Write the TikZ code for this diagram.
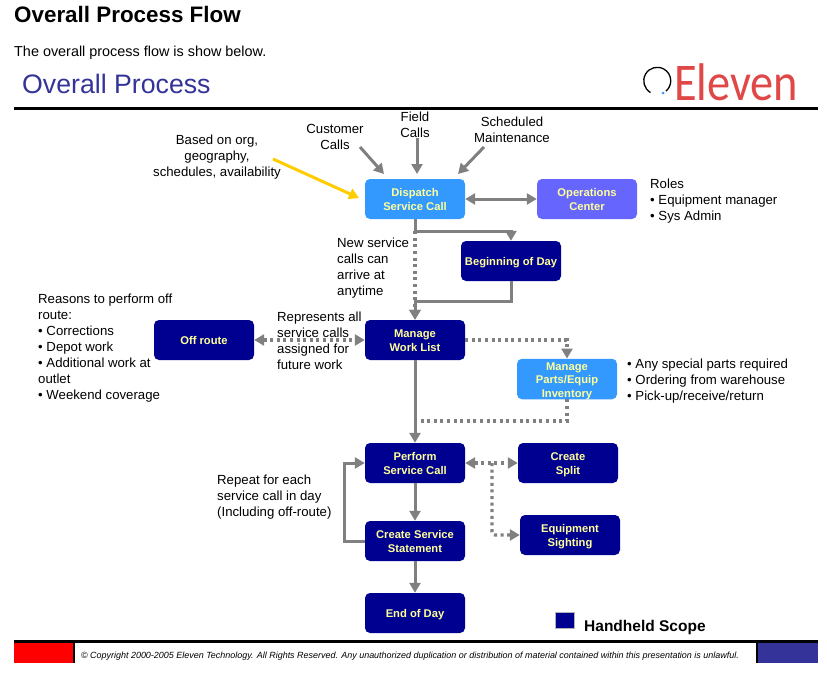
\documentclass[tikz,border=0pt]{standalone}
\usepackage{fontspec}
\setmainfont{Liberation Sans}
\newfontfamily\logofont{Carlito}
\usetikzlibrary{arrows.meta}
\definecolor{navybox}{HTML}{000090}
\definecolor{skybox}{HTML}{3399FF}
\definecolor{violetbox}{HTML}{6666FF}
\definecolor{boxtext}{HTML}{FFFF99}
\definecolor{flowgray}{HTML}{808080}
\definecolor{titleblue}{HTML}{333399}
\definecolor{logored}{HTML}{E04848}
\definecolor{basedyellow}{HTML}{FFCC00}
\newcommand{\boxlines}[1]{\raisebox{-2pt}[\height][\depth]{\begin{tabular}{@{}c@{}}#1\end{tabular}}}
\begin{document}
\begin{tikzpicture}[x=1pt,y=-1pt]
	\tikzset{procbox/.style={rounded corners=5pt,minimum width=100pt,minimum height=40pt,inner sep=0pt,text=boxtext,font=\fontsize{11.2}{14}\selectfont\bfseries}}
	\tikzset{handheld/.style={procbox,fill=navybox}}
	\tikzset{flow/.style={draw=flowgray,line width=3pt,-{Triangle[length=10pt,width=11pt]}}}
	\tikzset{twoway/.style={{Triangle[length=10pt,width=11pt]}-{Triangle[length=10pt,width=11pt]}}}
	\tikzset{flowdot/.style={flow,line width=3.2pt,dash pattern=on 3pt off 3.6pt}}
	\tikzset{note/.style={inner sep=0pt,align=left,font=\fontsize{13.2}{16}\selectfont}}
	\tikzset{notemid/.style={note,align=center}}

	\useasboundingbox (0,0) rectangle (827,672);

	\node[inner sep=0pt,anchor=west,font=\fontsize{22.4}{26}\selectfont\bfseries] (pagetitle) at (14,14) {Overall Process Flow};
	\node[note,anchor=west,font=\fontsize{14.4}{17}\selectfont] (intro) at (14,53) {The overall process flow is show below.};
	\node[inner sep=0pt,anchor=west,text=titleblue,font=\fontsize{26.7}{30}\selectfont] (slidetitle) at (22,84) {Overall Process};
	\node[inner sep=0pt,anchor=base west,text=logored,xscale=.875,font=\fontsize{53}{53}\logofont] (logo) at (674,100) {Eleven};
	\draw[line width=1.3pt] (650.5,92.5) arc[start angle=120,end angle=410,radius=13.5];
	\fill[skybox] (663,93) circle (1.5pt);
	\fill (14,106.5) rectangle (818,109.5);

	% boxes
	\node[procbox,fill=skybox] (dispatch) at (415,199) {\boxlines{Dispatch\\Service Call}};
	\node[procbox,fill=violetbox] (operations) at (587,199) {\boxlines{Operations\\Center}};
	\node[handheld] (beginday) at (511,261) {\boxlines{Beginning of Day}};
	\node[handheld] (offroute) at (204,340) {\boxlines{Off route}};
	\node[handheld] (worklist) at (415,340) {\boxlines{Manage\\Work List}};
	\node[procbox,fill=skybox,font=\fontsize{11.2}{13.5}\selectfont\bfseries] (inventory) at (567,379) {\boxlines{Manage\\Parts/Equip\\Inventory}};
	\node[handheld] (perform) at (415,463) {\boxlines{Perform\\Service Call}};
	\node[handheld] (split) at (568,463) {\boxlines{Create\\Split}};
	\node[handheld] (sighting) at (570,535) {\boxlines{Equipment\\Sighting}};
	\node[handheld] (statement) at (415,541) {\boxlines{Create Service\\Statement}};
	\node[handheld] (endday) at (415,613) {\boxlines{End of Day}};

	% notes
	\node[notemid] (customer) at (335,137) {Customer\\Calls};
	\node[notemid] (field) at (415,124.5) {Field\\Calls};
	\node[notemid] (scheduled) at (512,130) {Scheduled\\Maintenance};
	\node[notemid] (basedon) at (217,157) {Based on org,\\geography,\\schedules, availability};
	\node[note,anchor=north west] (roles) at (650,179) {Roles\\{\textbullet} Equipment manager\\{\textbullet} Sys Admin};
	\node[note,anchor=north west] (newcalls) at (337,237.5) {New service\\calls can\\arrive at\\anytime};
	\node[note,anchor=north west] (reasons) at (38,294) {Reasons to perform off\\route:\\{\textbullet} Corrections\\{\textbullet} Depot work\\{\textbullet} Additional work at\\outlet\\{\textbullet} Weekend coverage};
	\node[note,anchor=north west] (represents) at (277,312) {Represents all\\service calls\\assigned for\\future work};
	\node[note,anchor=north west] (parts) at (627,359) {{\textbullet} Any special parts required\\{\textbullet} Ordering from warehouse\\{\textbullet} Pick-up/receive/return};
	\node[note,anchor=north west] (repeat) at (217,475) {Repeat for each\\service call in day\\(Including off-route)};
	\node[inner sep=0pt,anchor=west,font=\fontsize{15.5}{18}\selectfont\bfseries] (scope) at (584,627.5) {Handheld Scope};
	\node[draw=flowgray!60,fill=navybox,minimum width=19pt,minimum height=16pt,inner sep=0pt] (scopekey) at (564.5,620) {};

	% free ends
	\coordinate (customerstart) at (360,147);
	\coordinate (customerend) at (384,174);
	\coordinate (fieldstart) at (417,138);
	\coordinate (fieldend) at (417,174);
	\coordinate (schedstart) at (484,147);
	\coordinate (schedend) at (458,174);
	\coordinate (yellowstart) at (273,159);
	\coordinate (yellowend) at (359,198);
	\coordinate (splitfork) at (492,463);
	\coordinate (partsjoin) at (418,421);

	\draw[flow] (customerstart) -- (customerend);
	\draw[flow] (fieldstart) -- (fieldend);
	\draw[flow] (schedstart) -- (schedend);
	\draw[line width=3pt,draw=basedyellow,-{Triangle[length=10pt,width=11pt]}] (yellowstart) -- (yellowend);

	\draw[flow,twoway] (dispatch) -- (operations);
	\draw[flow] (dispatch.south) -- ++(0,12) -| (beginday.north);
	\draw[flowdot] (dispatch.south) ++(0,12) -- (worklist.north);
	\draw[flow] (beginday.south) -- ++(0,20) -| (worklist.north);
	\draw[flowdot,twoway] (offroute) -- (worklist);
	\draw[flowdot] (worklist.east) -| (inventory.north);
	\draw[flow] (worklist) -- (perform);
	\draw[flowdot,-] (inventory.south) |- (partsjoin);
	\draw[flowdot,twoway] (perform) -- (split);
	\draw[flowdot,rounded corners=3pt] (splitfork) |- (sighting.west);
	\draw[flow] (perform) -- (statement);
	\draw[flow] (statement.west) -- ++(-20,0) |- (perform.west);
	\draw[flow] (statement) -- (endday);

	% footer
	\fill (14,640) rectangle (818,643);
	\fill[red] (14,643) rectangle (73,663);
	\fill (73,643) rectangle (75,663);
	\fill (756,643) rectangle (758,663);
	\fill[titleblue] (758,643) rectangle (818,663);
	\node[inner sep=0pt,font=\fontsize{8.96}{10}\selectfont\itshape] (copyright) at (410,656) {\textcopyright{} Copyright 2000-2005 Eleven Technology. All Rights Reserved. Any unauthorized duplication or distribution of material contained within this presentation is unlawful.};
\end{tikzpicture}
\end{document}
